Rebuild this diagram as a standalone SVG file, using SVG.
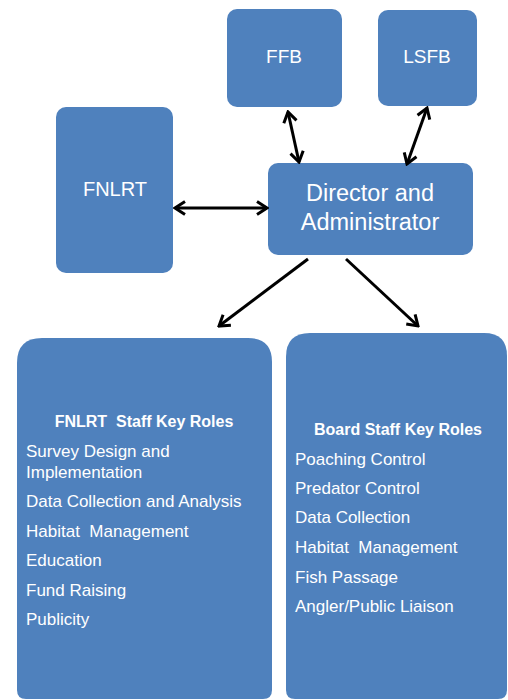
<svg xmlns="http://www.w3.org/2000/svg" width="508" height="700" viewBox="0 0 508 700">
<style>
.box{fill:#4F81BD}
.t{fill:#fff;font-family:"Liberation Sans",Arial,sans-serif;white-space:pre}
.c{text-anchor:middle}
.b{font-weight:bold;font-size:16px}
.li{font-size:17px}
.conn{stroke:#000;stroke-width:3;fill:none}
</style>
<defs>
<marker id="ah" viewBox="-12 -9 14 18" markerWidth="14" markerHeight="18" markerUnits="userSpaceOnUse" refX="0" refY="0" orient="auto-start-reverse">
<path d="M-10,-6.5 L0,0 L-10,6.5" fill="none" stroke="#000" stroke-width="3"/>
</marker>
</defs>
<rect width="508" height="700" fill="#fff"/>
<g id="ffb"><rect class="box" x="227" y="9" width="115" height="98" rx="10"/><text class="t c" x="284" y="63" font-size="19">FFB</text></g>
<g id="lsfb"><rect class="box" x="378" y="10" width="99" height="96" rx="10"/><text class="t c" x="427" y="63" font-size="19">LSFB</text></g>
<g id="fnlrt"><rect class="box" x="56" y="107" width="117" height="166" rx="10"/><text class="t c" x="115" y="196" font-size="20">FNLRT</text></g>
<g id="director"><rect class="box" x="268" y="163" width="205" height="92" rx="10"/><text class="t c" x="370" y="201" font-size="23.5">Director and</text><text class="t c" x="370" y="230" font-size="23.5">Administrator</text></g>
<g id="fnlrt-staff"><path class="box" d="M42,338 H248 Q272,338 272,362 V690 Q272,699 263,699 H26 Q17,699 17,690 V363 Q17,338 42,338 Z"/>
<text class="t c b" x="144" y="427">FNLRT  Staff Key Roles</text>
<text class="t li" x="26" y="457">Survey Design and</text>
<text class="t li" x="26" y="478">Implementation</text>
<text class="t li" x="26" y="507">Data Collection and Analysis</text>
<text class="t li" x="26" y="537">Habitat  Management</text>
<text class="t li" x="26" y="566">Education</text>
<text class="t li" x="26" y="596">Fund Raising</text>
<text class="t li" x="26" y="625">Publicity</text></g>
<g id="board-staff"><path class="box" d="M310,333 H484 Q507,333 507,356 V690 Q507,699 498,699 H295 Q286,699 286,690 V357 Q286,333 310,333 Z"/>
<text class="t c b" x="398" y="435">Board Staff Key Roles</text>
<text class="t li" x="295" y="465">Poaching Control</text>
<text class="t li" x="295" y="494">Predator Control</text>
<text class="t li" x="295" y="523">Data Collection</text>
<text class="t li" x="295" y="553">Habitat  Management</text>
<text class="t li" x="295" y="583">Fish Passage</text>
<text class="t li" x="295" y="612">Angler/Public Liaison</text></g>
<g id="connectors">
<line class="conn" x1="175" y1="208" x2="267" y2="208" marker-start="url(#ah)" marker-end="url(#ah)"/>
<line class="conn" x1="288" y1="112" x2="299" y2="162" marker-start="url(#ah)" marker-end="url(#ah)"/>
<line class="conn" x1="427" y1="108" x2="407" y2="164" marker-start="url(#ah)" marker-end="url(#ah)"/>
<line class="conn" x1="308" y1="259" x2="219" y2="326" marker-end="url(#ah)"/>
<line class="conn" x1="346" y1="259" x2="418" y2="326" marker-end="url(#ah)"/>
</g>
</svg>
